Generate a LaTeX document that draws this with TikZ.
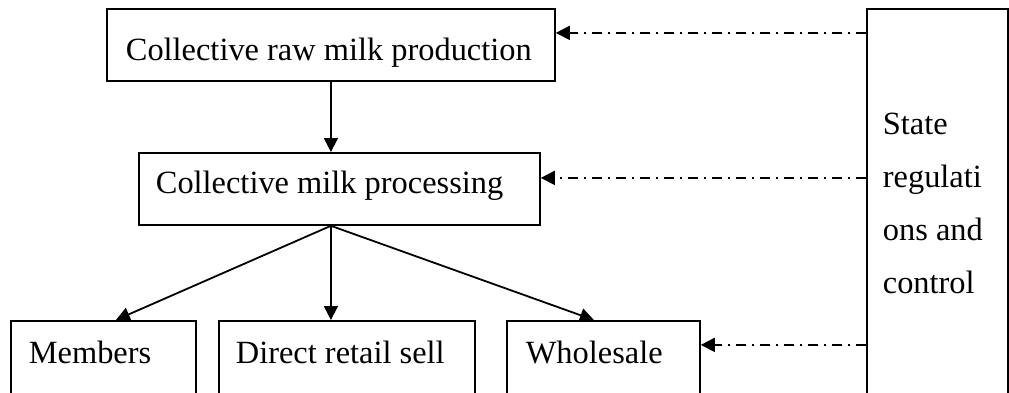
\documentclass[tikz,border=0pt]{standalone}
\usepackage{fontspec}
\setmainfont{Liberation Serif}
\usetikzlibrary{arrows.meta}
\tikzstyle{stagebox}=[draw=black,line width=0.9pt,anchor=north west,align=flush left,inner ysep=0pt,font=\fontsize{16.2}{26.5}\selectfont]
\tikzstyle{flowline}=[line width=0.9pt,-{Triangle[length=7pt,width=7pt]}]
\tikzstyle{ctrlline}=[flowline,dash pattern=on 5pt off 3pt on 1pt off 3pt]

\begin{document}
\begin{tikzpicture}[x=0.5pt,y=-0.5pt]
	\useasboundingbox (0,0) rectangle (1009,392);
	\clip (0,0) rectangle (1009,392);
	% chain of the cooperative
	\node[stagebox,text width=205pt,inner xsep=9.5pt,text height=26pt,text depth=10pt] (raw) at (106,8) {Collective raw milk production};
	\node[stagebox,text width=183.5pt,inner xsep=8.5pt,text height=20.5pt,text depth=15.5pt] (proc) at (138,152) {Collective milk processing};
	\node[stagebox,text width=74.5pt,inner xsep=9pt,text height=21.5pt,text depth=18.5pt] (members) at (10,320) {Members};
	\node[stagebox,text width=111pt,inner xsep=8.5pt,text height=21.5pt,text depth=18.5pt] (retail) at (218,320) {Direct retail sell};
	\node[stagebox,text width=77.5pt,inner xsep=9.5pt,text height=21.5pt,text depth=18.5pt] (whole) at (506,320) {Wholesale};
	\node[stagebox,text width=54.5pt,inner xsep=8pt,minimum height=194.5pt] (state) at (866,8) {State\\regulati\\ons and\\control};
	% flows
	\coordinate (fork) at (raw.south |- proc.south);
	\draw[flowline] (raw.south) -- (raw.south |- proc.north);
	\draw[flowline] (fork) -- ([xshift=6.25pt]members.north);
	\draw[flowline] (fork) -- (fork |- retail.north);
	\draw[flowline] (fork) -- ([xshift=-4.75pt]whole.north);
	% control by the state
	\coordinate (c1) at ([yshift=6pt]raw.east);
	\coordinate (c2) at ([yshift=5.5pt]proc.east);
	\coordinate (c3) at ([yshift=8pt]whole.east);
	\draw[ctrlline] (state.west |- c1) -- (c1);
	\draw[ctrlline] (state.west |- c2) -- (c2);
	\draw[ctrlline] (state.west |- c3) -- (c3);
\end{tikzpicture}
\end{document}
